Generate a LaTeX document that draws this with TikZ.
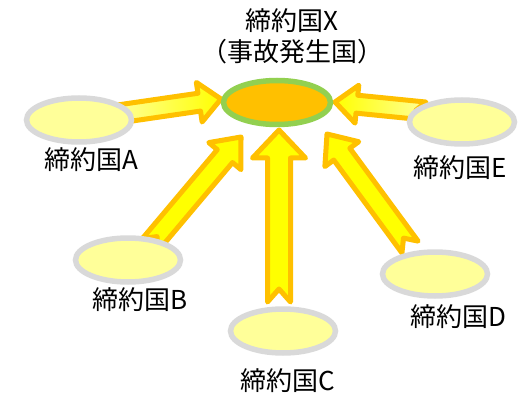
\documentclass[tikz,border=0pt]{standalone}
\usepackage{fontspec}
\setmainfont{Noto Sans CJK JP}
\usetikzlibrary{calc,shapes.geometric}
\definecolor{xfill}{HTML}{FFC000}
\definecolor{xline}{HTML}{92D050}
\definecolor{pfill}{HTML}{FFFF99}
\definecolor{pline}{HTML}{D9D9D9}
\definecolor{aline}{HTML}{FFC000}
\definecolor{afill}{HTML}{FFFF00}
\definecolor{apale}{HTML}{FFFF99}
% #1 tail coordinate, #2 tip coordinate, #3 half shaft width, #4 half head width,
% #5 head length, #6 notch depth, #7 style
\newcommand\blockarrow[7]{%
  \coordinate (#1h) at ($(#2)!#5!(#1)$);
  \coordinate (#1n) at ($(#1)!#6!(#2)$);
  \draw[#7] ($(#1)!#3!90:(#2)$) -- ($(#1h)!#3!-90:(#1)$) -- ($(#1h)!#4!-90:(#1)$)
    -- (#2) -- ($(#1h)!#4!90:(#1)$) -- ($(#1h)!#3!90:(#1)$)
    -- ($(#1)!#3!-90:(#2)$) -- (#1n) -- cycle;
}
\tikzset{
  arrowbody/.style={draw=aline, line width=5pt, line join=round, fill=afill},
  arrowright/.style={draw=aline, line width=5pt, line join=round, left color=apale, right color=afill},
  arrowleft/.style={draw=aline, line width=5pt, line join=round, left color=afill, right color=apale},
  hub/.style={ellipse, draw=xline, fill=xfill, line width=5.5pt, minimum width=107pt, minimum height=44pt, inner sep=0pt},
  party/.style={ellipse, draw=pline, fill=pfill, line width=5.5pt, minimum width=105pt, minimum height=44pt, inner sep=0pt},
  lbl/.style={font=\fontsize{26}{31}\selectfont, inner sep=0pt, text=black, align=center},
}
\begin{document}
\begin{tikzpicture}[x=1pt, y=-1pt]
\useasboundingbox (0,0) rectangle (521,395);
% arrow ends
\coordinate (tA) at (118,114);  \coordinate (pA) at (221,99);
\coordinate (tB) at (150,245);  \coordinate (pB) at (241,137);
\coordinate (tC) at (279,302);  \coordinate (pC) at (279,130);
\coordinate (tD) at (410,247);  \coordinate (pD) at (327,134);
\coordinate (tE) at (425,111);  \coordinate (pE) at (335,102);
% arrows
\blockarrow{tA}{pA}{9pt}{20pt}{22pt}{9pt}{arrowright}
\blockarrow{tE}{pE}{9pt}{19pt}{22pt}{9pt}{arrowleft}
\blockarrow{tB}{pB}{10pt}{21pt}{25pt}{11pt}{arrowbody}
\blockarrow{tD}{pD}{10pt}{21pt}{25pt}{11pt}{arrowbody}
\blockarrow{tC}{pC}{11.5pt}{26.5pt}{28pt}{13pt}{arrowbody}
% ellipses
\node[hub]   (X) at (277,102.5) {};
\node[party] (A) at (79,120) {};
\node[party] (B) at (128,260) {};
\node[party] (C) at (283,331) {};
\node[party] (D) at (435,274) {};
\node[party] (E) at (462,122) {};
% labels
\node[lbl] (lX) at (292,36.5) {締約国X\\（事故発生国）};
\node[lbl] (lA) at (91,160) {締約国A};
\node[lbl] (lB) at (140,300) {締約国B};
\node[lbl] (lC) at (288,381) {締約国C};
\node[lbl] (lD) at (458,317) {締約国D};
\node[lbl] (lE) at (460,168) {締約国E};
\end{tikzpicture}
\end{document}
